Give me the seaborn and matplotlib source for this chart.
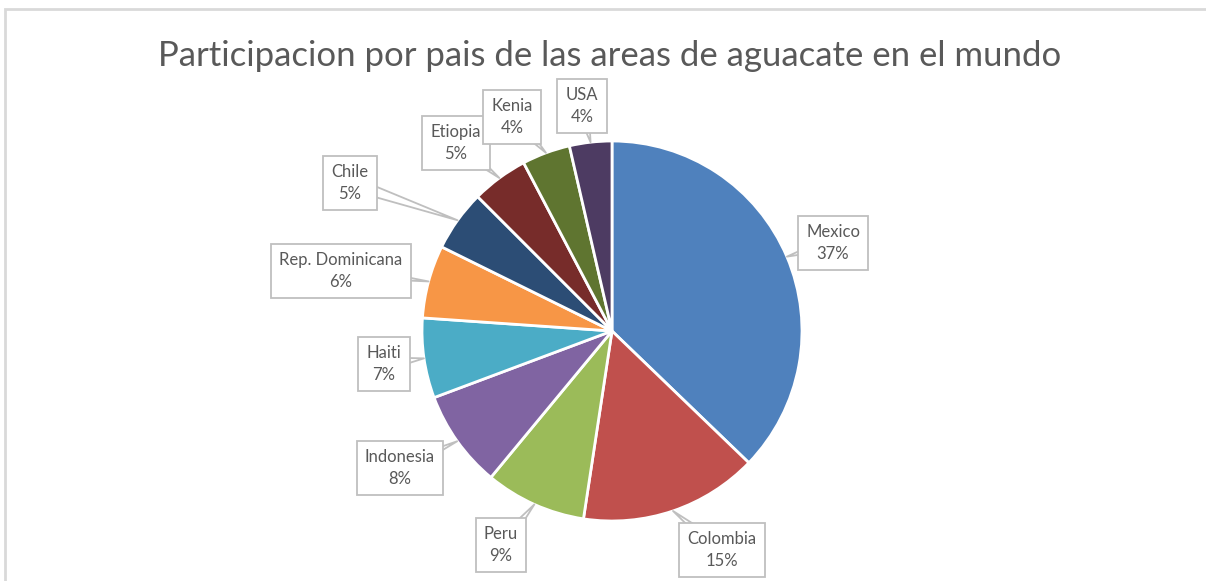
import numpy as np
import matplotlib
matplotlib.use("Agg")
import matplotlib.pyplot as plt
from matplotlib.patches import Rectangle
import seaborn as sns

# ---- data ----
countries = ["Mexico", "Colombia", "Peru", "Indonesia", "Haiti",
             "Rep. Dominicana", "Chile", "Etiopia", "Kenia", "USA"]
shares = [37.2, 15.2, 8.6, 8.3, 6.8, 6.2, 5.2, 4.8, 4.1, 3.6]
colors = ["#4F81BD", "#C0504D", "#9BBB59", "#8064A2", "#4BACC6",
          "#F79646", "#2C4D75", "#772C2A", "#5F7530", "#4D3B62"]
title = "Participacion por pais de las areas de aguacate en el mundo"

# label box centres (pixel coords from top-left)
label_pos = [(833, 243), (722, 550), (501, 545), (400, 468), (384, 364),
             (341, 271), (350, 183), (456, 143), (512, 117), (582, 106)]

sns.set_theme(style="white")
plt.rcParams["font.family"] = ["Lato", "DejaVu Sans"]

W, H = 1206, 581
fig = plt.figure(figsize=(W / 100, H / 100), dpi=100)
ax = fig.add_axes([0, 0, 1, 1])

cx, cy, R = 612, H - 331, 190
wedges, _ = ax.pie(shares, colors=colors, startangle=90, counterclock=False,
                   center=(cx, cy), radius=R,
                   wedgeprops=dict(edgecolor="white", linewidth=2))
ax.set_xlim(0, W)
ax.set_ylim(0, H)
ax.set_aspect("auto")
ax.axis("off")

total = sum(shares)
for w, name, v, (lx, ly) in zip(wedges, countries, shares, label_pos):
    mid = np.deg2rad((w.theta1 + w.theta2) / 2)
    tx, ty = cx + R * np.cos(mid), cy + R * np.sin(mid)
    ax.annotate(f"{name}\n{round(v / total * 100)}%",
                xy=(tx, ty), xytext=(lx, H - ly),
                ha="center", va="center", fontsize=12, color="#595959",
                linespacing=1.4,
                bbox=dict(boxstyle="square,pad=0.5", fc="white",
                          ec="#BFBFBF", lw=1.3),
                arrowprops=dict(arrowstyle="wedge,tail_width=0.8,shrink_factor=0.5",
                                fc="white", ec="#BFBFBF", lw=1.3,
                                patchA=None, shrinkA=0, shrinkB=0),
                zorder=5)

ax.text(610, H - 56, title, ha="center", va="center", fontsize=25,
        color="#595959")

# chart-area border
ax.add_patch(Rectangle((5, -20), W + 20, H - 8.5 + 20, fill=False,
                       ec="#D9D9D9", lw=2, clip_on=False))

fig.savefig("out.png", dpi=100, facecolor="white")
